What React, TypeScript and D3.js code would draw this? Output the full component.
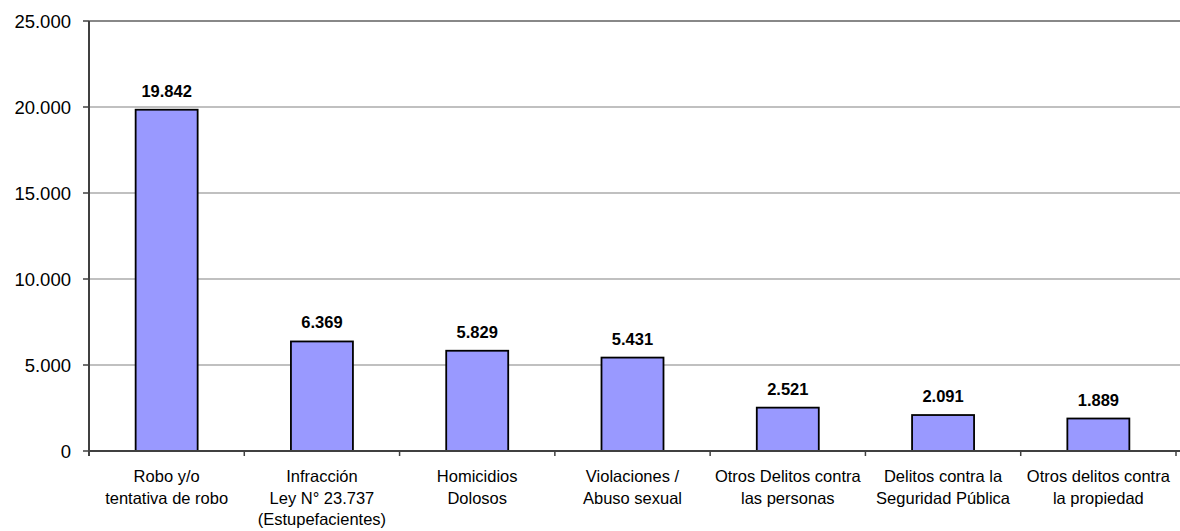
import React from "react";
import * as d3 from "d3";

const categories: string[][] = [
  ["Robo y/o", "tentativa de robo"],
  ["Infracción", "Ley N° 23.737", "(Estupefacientes)"],
  ["Homicidios", "Dolosos"],
  ["Violaciones /", "Abuso sexual"],
  ["Otros Delitos contra", "las personas"],
  ["Delitos contra la", "Seguridad Pública"],
  ["Otros delitos contra", "la propiedad"],
];
const values: number[] = [19842, 6369, 5829, 5431, 2521, 2091, 1889];
const yTicks: number[] = [0, 5000, 10000, 15000, 20000, 25000];

const W = 1180;
const H = 531;
const left = 89;
const right = 1176;
const top = 21;
const bottom = 451;

const locale = d3.formatLocale({ decimal: ",", thousands: ".", grouping: [3], currency: ["$", ""] });
const fmt = locale.format(",d");

export default function App() {
  const x = d3.scaleBand<number>().domain(d3.range(categories.length)).range([left, right]).paddingInner(0).paddingOuter(0);
  const y = d3.scaleLinear().domain([0, 25000]).range([bottom, top]);
  const bw = x.bandwidth();
  const barW = 62;
  const font = "Arial, 'Liberation Sans', sans-serif";

  return (
    <svg width={W} height={H} style={{ position: "absolute", left: 0, top: 0, background: "#fff" }} fontFamily={font}>
      {yTicks.filter((t) => t > 0).map((t) => (
        <line key={"g" + t} x1={left} x2={W} y1={y(t)} y2={y(t)} stroke={t === 25000 ? "#888888" : "#c0c0c0"} strokeWidth={2} />
      ))}
      {yTicks.map((t) => (
        <g key={"t" + t}>
          <line x1={left - 6} x2={left} y1={y(t)} y2={y(t)} stroke="#404040" strokeWidth={1.5} />
          <text x={71} y={y(t)} dy="0.36em" textAnchor="end" fontSize={18.5} fill="#000">{fmt(t)}</text>
        </g>
      ))}
      {values.map((v, i) => {
        const cx = (x(i) as number) + bw / 2;
        return (
          <g key={"b" + i}>
            <rect x={cx - barW / 2} y={y(v)} width={barW} height={bottom - y(v)} fill="#9999ff" stroke="#000" strokeWidth={1.8} />
            <text x={cx} y={y(v) - 13} textAnchor="middle" fontSize={16.5} fontWeight="bold" fill="#000">{fmt(v)}</text>
          </g>
        );
      })}
      <line x1={left} x2={left} y1={top} y2={bottom + 5} stroke="#404040" strokeWidth={2} />
      <line x1={left} x2={W} y1={bottom} y2={bottom} stroke="#404040" strokeWidth={2} />
      {d3.range(categories.length + 1).map((i) => (
        <line key={"xt" + i} x1={left + i * bw} x2={left + i * bw} y1={bottom} y2={bottom + 5} stroke="#404040" strokeWidth={1.5} />
      ))}
      {categories.map((lines, i) => {
        const cx = (x(i) as number) + bw / 2;
        return (
          <text key={"c" + i} x={cx} y={482} textAnchor="middle" fontSize={16.5} fill="#000">
            {lines.map((l, j) => (
              <tspan key={j} x={cx} y={482 + j * 21.5}>{l}</tspan>
            ))}
          </text>
        );
      })}
    </svg>
  );
}
